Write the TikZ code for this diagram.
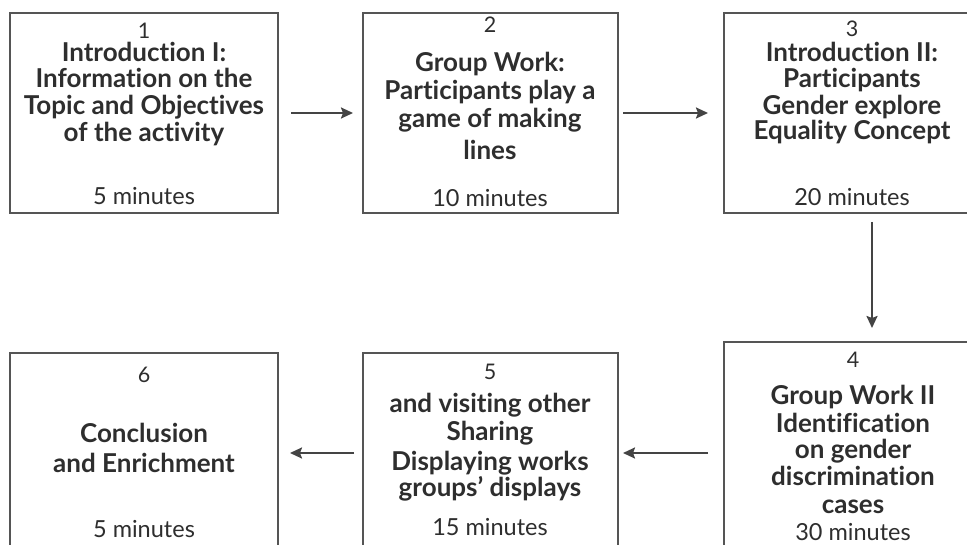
\documentclass[tikz,border=0pt]{standalone}
\usepackage{fontspec}
\setmainfont{Lato}[Ligatures={NoCommon,NoRequired,NoContextual}]
\usetikzlibrary{arrows.meta}
\definecolor{txt}{HTML}{2E2E2E}
\definecolor{edgec}{HTML}{555555}
\definecolor{arrc}{HTML}{444444}
\newcommand\bline[4]{\node[body] (#1) at (#2,#3) {#4};}
\newcommand\nline[4]{\node[plain] (#1) at (#2,#3) {#4};}
\newcommand\numline[4]{\node[numtext] (#1) at (#2,#3) {#4};}
\begin{document}
\begin{tikzpicture}[x=1pt,y=-1pt,
  box/.style={draw=edgec, line width=2pt, fill=none, inner sep=0pt, outer sep=0pt},
  body/.style={font=\bfseries\fontsize{26}{30}\selectfont, text=txt, anchor=base, inner sep=0pt},
  plain/.style={font=\fontsize{23.5}{27}\selectfont, text=txt, anchor=base, inner sep=0pt},
  numtext/.style={font=\fontsize{21.5}{24}\selectfont, text=txt, anchor=base, inner sep=0pt},
  flow/.style={draw=arrc, line width=2.2pt, -{Stealth[length=12pt,width=11pt,inset=2pt]}}]
\useasboundingbox (0,0) rectangle (967,545);
\clip (0,0) rectangle (967,545);
% boxes
\node[box, minimum width=268, minimum height=200] (b1) at (144,113) {};
\node[box, minimum width=255, minimum height=200] (b2) at (490.5,113) {};
\node[box, minimum width=296, minimum height=200] (b3) at (872,113) {};
\node[box, minimum width=296, minimum height=222] (b4) at (872,453) {};
\node[box, minimum width=255, minimum height=200] (b5) at (490.5,453) {};
\node[box, minimum width=268, minimum height=200] (b6) at (144,453) {};
% box 1
\numline{n1}{144}{39}{1}
\bline{a1}{144}{62}{Introduction I:}
\bline{a2}{144}{88}{Information on the}
\bline{a3}{144}{115}{Topic and Objectives}
\bline{a4}{144}{142}{of the activity}
\nline{m1}{144}{205}{5 minutes}
% box 2
\numline{n2}{490}{33}{2}
\bline{c1}{490}{72}{Group Work:}
\bline{c2}{490}{100}{Participants play a}
\bline{c3}{490}{128}{game of making}
\bline{c4}{490}{160}{lines}
\nline{m2}{490}{207}{10 minutes}
% box 3
\numline{n3}{852}{37}{3}
\bline{d1}{852}{62}{Introduction II:}
\bline{d2}{852}{88}{Participants}
\bline{d3}{852}{115}{Gender explore}
\bline{d4}{852}{140}{Equality Concept}
\nline{m3}{852}{206}{20 minutes}
% box 4
\numline{n4}{853}{368}{4}
\bline{e1}{853}{405}{Group Work II}
\bline{e2}{853}{432}{Identification}
\bline{e3}{853}{458}{on gender}
\bline{e4}{853}{485}{discrimination}
\bline{e5}{853}{513}{cases}
\nline{m4}{853}{540}{30 minutes}
% box 5
\numline{n5}{490}{380}{5}
\bline{f1}{490}{413}{and visiting other}
\bline{f2}{490}{440}{Sharing}
\bline{f3}{490}{470}{Displaying works}
\bline{f4}{490}{496}{groups’ displays}
\nline{m5}{490}{535}{15 minutes}
% box 6
\numline{n6}{144}{382}{6}
\bline{g1}{144}{442}{Conclusion}
\bline{g2}{144}{472}{and Enrichment}
\nline{m6}{144}{537}{5 minutes}
% arrows
\draw[flow, shorten <=13pt, shorten >=10pt] (b1.east) -- (b2.west);
\draw[flow, shorten <=5pt, shorten >=16pt] (b2.east) -- (b3.west);
\draw[flow, shorten <=9pt, shorten >=14pt] (b3.south) -- (b4.north);
\draw[flow, shorten <=16pt, shorten >=5pt] (b4.west) -- (b5.east);
\draw[flow, shorten <=9pt, shorten >=12pt] (b5.west) -- (b6.east);
\end{tikzpicture}
\end{document}
